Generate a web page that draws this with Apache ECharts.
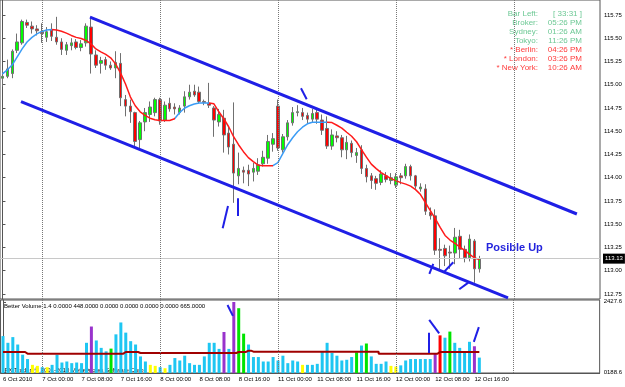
<!DOCTYPE html>
<html>
<head>
<meta charset="utf-8">
<script src="https://cdn.jsdelivr.net/npm/echarts@6/dist/echarts.min.js"></script>
<style>
html, body { margin: 0; padding: 0; background: #fff; }
#main { width: 625px; height: 387px; }
</style>
</head>
<body>
<div id="main"></div>
<script>
// H1 bars, 6 Oct 2010 16:00 .. 12 Oct 2010 17:00
var opens = [115.07,115.09,115.12,115.37,115.45,115.67,115.63,115.60,115.57,115.51,
  115.59,115.51,115.46,115.37,115.42,115.46,115.40,115.45,115.62,115.32,
  115.23,115.27,115.21,115.18,115.23,114.84,114.77,114.70,114.41,114.60,
  114.68,114.70,114.84,114.62,114.80,114.76,114.70,114.77,114.87,114.93,
  114.92,114.82,114.80,114.75,114.60,114.64,114.48,114.36,114.02,114.08,
  114.08,114.06,114.07,114.15,114.21,114.36,114.77,114.30,114.44,114.59,
  114.70,114.70,114.67,114.63,114.70,114.62,114.53,114.34,114.45,114.43,
  114.30,114.37,114.24,114.30,114.10,114.02,113.99,113.95,114.02,113.97,
  113.92,114.02,114.02,114.12,114.02,113.88,113.88,113.63,113.59,113.23,
  113.24,113.20,113.19,113.37,113.23,113.14,113.32,113.02];
var highs = [115.16,115.27,115.38,115.55,115.70,115.70,115.68,115.64,115.66,115.62,
  115.66,115.73,115.50,115.46,115.50,115.49,115.48,115.66,115.73,115.37,
  115.30,115.30,115.25,115.36,115.34,114.89,114.84,114.71,114.61,114.75,
  114.82,114.86,114.86,114.82,114.86,114.80,114.78,114.93,115.00,115.00,
  114.98,114.84,115.02,114.77,114.74,114.73,114.55,114.81,114.27,114.12,
  114.14,114.16,114.21,114.29,114.46,114.48,114.84,114.47,114.62,114.76,
  114.78,114.75,114.70,114.74,114.74,114.68,114.66,114.52,114.50,114.46,
  114.45,114.40,114.32,114.35,114.14,114.05,114.02,114.08,114.06,114.05,
  114.05,114.05,114.15,114.14,114.03,113.94,113.93,113.68,113.66,113.35,
  113.28,113.27,113.46,113.44,113.27,113.39,113.34,113.16];
var lows = [114.98,115.07,115.07,115.34,115.43,115.61,115.55,115.53,115.45,115.46,
  115.47,115.43,115.32,115.32,115.37,115.38,115.36,115.41,115.12,115.18,
  115.12,115.16,115.16,115.07,114.77,114.66,114.59,114.34,114.32,114.50,
  114.60,114.66,114.57,114.60,114.71,114.68,114.68,114.70,114.84,114.87,
  114.80,114.78,114.75,114.44,114.55,114.27,114.25,113.73,113.93,113.94,
  113.91,113.96,114.03,114.12,114.15,114.28,114.29,114.27,114.40,114.56,
  114.66,114.62,114.58,114.60,114.58,114.46,114.31,114.30,114.38,114.22,
  114.20,114.22,114.16,114.04,113.95,113.88,113.87,113.92,113.95,113.93,
  113.89,113.93,113.99,113.97,113.88,113.85,113.60,113.55,113.17,113.01,
  113.05,113.02,113.07,113.13,113.09,113.10,112.87,112.98];
var closes = [115.09,115.17,115.36,115.46,115.68,115.64,115.60,115.58,115.55,115.57,
  115.52,115.46,115.38,115.43,115.45,115.40,115.44,115.63,115.33,115.21,
  115.26,115.21,115.18,115.24,114.86,114.77,114.71,114.39,114.59,114.70,
  114.76,114.84,114.61,114.78,114.74,114.74,114.75,114.87,114.92,114.89,
  114.82,114.81,114.78,114.62,114.68,114.46,114.33,114.05,114.10,114.06,
  114.04,114.10,114.14,114.22,114.39,114.42,114.32,114.44,114.59,114.70,
  114.71,114.66,114.63,114.69,114.63,114.51,114.34,114.46,114.43,114.30,
  114.38,114.27,114.27,114.10,114.01,113.97,113.94,114.04,113.98,114.00,
  114.01,114.00,114.12,114.02,113.91,113.90,113.64,113.59,113.22,113.22,
  113.16,113.19,113.36,113.23,113.14,113.34,113.02,113.13];

// moving average
var maLine = [115.117,115.160,115.214,115.299,115.385,115.460,115.509,115.546,115.573,115.589,
  115.594,115.589,115.575,115.555,115.530,115.509,115.497,115.476,115.439,115.385,
  115.353,115.326,115.289,115.224,115.128,115.010,114.870,114.774,114.709,114.670,
  114.640,114.623,114.616,114.616,114.616,114.634,114.699,114.747,114.774,114.792,
  114.803,114.803,114.803,114.795,114.709,114.634,114.548,114.441,114.355,114.280,
  114.216,114.173,114.135,114.130,114.130,114.130,114.162,114.259,114.355,114.430,
  114.495,114.543,114.580,114.597,114.597,114.597,114.597,114.593,114.564,114.534,
  114.489,114.446,114.387,114.302,114.221,114.146,114.098,114.055,114.023,113.990,
  113.969,113.947,113.931,113.910,113.872,113.819,113.733,113.647,113.561,113.465,
  113.379,113.330,113.293,113.255,113.218,113.175,113.137,113.121];
var maTurns = [10, 35, 42, 55, 66]; // bar where colour flips, first part is blue

var volumes = [1344,1132,1312,1078,757,619,436,404,362,362,
  436,757,510,542,490,510,490,1132,1646,1206,
  972,863,949,1399,1774,1453,1184,1078,702,542,
  436,404,362,330,436,651,574,725,490,436,
  436,702,1132,1132,940,1473,940,2420,2224,1421,
  1078,683,683,542,542,683,574,725,490,574,
  542,436,436,436,468,863,1132,811,725,574,
  596,683,831,1046,1110,702,468,468,542,404,
  381,420,574,619,619,619,619,619,789,1367,
  1293,1486,1132,972,831,1164,1023,665];
var volKinds = ('BBBBBBYYBY' + 'BBBBBBBBPB' + 'BBGBBBBBBB' + 'YYBYBBBBBB' + 'BBBBBPBPGG' +
  'BBBBBBBBBB' + 'BYBBBBBBBB' + 'BBGBGBBBBY' + 'YBBBBBBBPR' + 'BGBBBBPB').split('');
var volAverage = [843,843,843,843,843,789,789,789,789,789,
  789,789,789,789,789,789,789,789,789,789,
  789,789,789,789,789,843,843,843,810,810,
  810,810,810,810,810,810,810,810,810,810,
  810,810,810,810,810,810,810,810,843,843,
  885,853,853,853,853,853,853,853,853,853,
  853,853,853,853,853,853,853,853,853,853,
  853,853,853,853,853,853,853,789,789,789,
  789,789,789,789,789,789,789,789,789,843,
  843,843,843,843,843,843,843,843];

var slotCount = 122;
var timeTicks = {0: '6 Oct 2010', 8: '7 Oct 00:00', 16: '7 Oct 08:00', 24: '7 Oct 16:00',
  32: '8 Oct 00:00', 40: '8 Oct 08:00', 48: '8 Oct 16:00', 56: '11 Oct 00:00',
  64: '11 Oct 08:00', 72: '11 Oct 16:00', 80: '12 Oct 00:00', 88: '12 Oct 08:00', 96: '12 Oct 16:00'};
var daySeps = [8, 32, 56, 80, 104];
var priceTicks = [112.75, 113.00, 113.25, 113.50, 113.75, 114.00, 114.25, 114.50, 114.75, 115.00, 115.25, 115.50, 115.75];
var volTicks = [188.6, 2427.6];

// hand drawn lines, [bar, price]
var channel = [[[17.8, 115.728], [116.8, 113.610]], [[3.77, 114.818], [102.8, 112.707]]];
var priceMarks = [[[44.78, 113.456], [45.86, 113.696]], [[47.83, 113.779], [47.83, 113.589]],
  [[60.7, 114.962], [61.86, 114.844]], [[86.8, 112.965], [87.6, 113.073]],
  [[89.64, 112.979], [91.67, 113.091]], [[92.89, 112.801], [94.72, 112.872]]];
var volMarks = [[[45.72, 2323], [46.82, 1981]], [[86.79, 1449], [86.79, 809]],
  [[86.79, 1853], [88.82, 1427]], [[95.88, 1161], [96.9, 1629]]];

var clockNames = ['Bar Left:', 'Broker:', 'Sydney:', 'Tokyo:', '* Berlin:', '* London:', '* New York:'];
var clockTimes = ['[ 33:31 ]', '05:26 PM', '01:26 AM', '11:26 PM', '04:26 PM', '03:26 PM', '10:26 AM'];
var header = 'Better Volume 1.4 0.0000 448.0000 0.0000 0.0000 0.0000 0.0000 665.0000';

var FONT = '"Liberation Sans", Arial, sans-serif';
var BLUE = '#3b9cf5', RED = '#ff1a1a', LINE = '#1f1fe6';

var slots = [];
for (var i = 0; i < slotCount; i++) slots.push(i);

var candleData = opens.map(function (o, i) { return [o, closes[i], lows[i], highs[i]]; });
var volColors = {B: '#1ec6f2', Y: '#ffff00', P: '#9933cc', G: '#00e400', R: '#ff0000'};
var volData = volumes.map(function (v, i) {
  return {value: v, itemStyle: {color: volColors[volKinds[i]]}};
});

var maPieces = [];
var prev = null;
maTurns.concat([null]).forEach(function (t, k) {
  var p = {color: k % 2 ? RED : BLUE};
  if (prev != null) p.gt = prev;
  if (t != null) p.lte = t;
  maPieces.push(p);
  prev = t;
});

var sepLines = daySeps.map(function (d) { return {xAxis: d}; });
var isTick = function (idx) { return timeTicks[idx] !== undefined; };

var graphics = [
  {type: 'text', x: 4, y: 306, style: {text: header, font: '6px ' + FONT, fill: '#000', textVerticalAlign: 'middle'}},
  {type: 'text', x: 3, y: 370, style: {text: 'IFX Trader, \u00a9 2001-2010 MetaQuotes Software Corp.', font: '6px ' + FONT, fill: '#000', textVerticalAlign: 'middle'}},
  {type: 'text', x: 486, y: 248, style: {text: 'Posible Up', font: 'bold 11px ' + FONT, fill: '#2424dd', textVerticalAlign: 'middle'}}
];
clockNames.forEach(function (n, k) {
  var col = k < 4 ? '#6cc894' : '#ff3b3b';
  graphics.push({type: 'text', x: 538, y: 14 + k * 9, style: {text: n, font: '8px ' + FONT, fill: col, textAlign: 'right', textVerticalAlign: 'middle'}});
  graphics.push({type: 'text', x: 582, y: 14 + k * 9, style: {text: clockTimes[k], font: '8px ' + FONT, fill: col, textAlign: 'right', textVerticalAlign: 'middle'}});
});

var chart = echarts.init(document.getElementById('main'));
var option = {
  animation: false,
  backgroundColor: '#fff',
  textStyle: {fontFamily: FONT},
  grid: [
    {left: 0, top: 0, width: 600, height: 299, show: true, borderColor: '#555', borderWidth: 1},
    {left: 0, top: 300, width: 600, height: 73, show: true, borderColor: '#555', borderWidth: 1}
  ],
  xAxis: [
    {type: 'category', gridIndex: 0, data: slots, axisLine: {show: false}, axisTick: {show: false}, axisLabel: {show: false}},
    {type: 'value', gridIndex: 0, min: -0.5, max: slotCount - 0.5, show: false},
    {type: 'category', gridIndex: 1, data: slots,
      axisLine: {lineStyle: {color: '#555'}},
      axisTick: {interval: isTick, alignWithLabel: true, length: 3, lineStyle: {color: '#555'}},
      axisLabel: {interval: isTick, align: 'left', margin: 3, fontSize: 6, color: '#000',
        formatter: function (v) { return timeTicks[v] || ''; }}},
    {type: 'value', gridIndex: 1, min: -0.5, max: slotCount - 0.5, show: false}
  ],
  yAxis: [
    {type: 'value', gridIndex: 0, position: 'right', min: 112.696, max: 115.911,
      splitLine: {show: false},
      axisLine: {show: true, lineStyle: {color: '#555'}},
      axisTick: {show: true, length: 3, customValues: priceTicks, lineStyle: {color: '#555'}},
      axisLabel: {customValues: priceTicks, margin: 4, fontSize: 6, color: '#000',
        formatter: function (v) { return v.toFixed(2); }}},
    {type: 'value', gridIndex: 1, position: 'right', min: 179, max: 2483,
      splitLine: {show: false},
      axisLine: {show: true, lineStyle: {color: '#555'}},
      axisTick: {show: true, length: 3, customValues: volTicks, lineStyle: {color: '#555'}},
      axisLabel: {customValues: volTicks, margin: 4, fontSize: 6, color: '#000',
        formatter: function (v) { return v.toFixed(1).padStart(6, '0'); }}}
  ],
  visualMap: {type: 'piecewise', show: false, dimension: 0, seriesIndex: 1, pieces: maPieces},
  series: [
    {type: 'candlestick', xAxisIndex: 0, yAxisIndex: 0, data: candleData, barWidth: 3,
      itemStyle: {color: '#00ff00', color0: '#ff0000', borderColor: '#707070', borderColor0: '#707070', borderWidth: 1},
      markLine: {silent: true, symbol: 'none',
        data: [{yAxis: closes[closes.length - 1], lineStyle: {color: '#c8c8c8', type: 'solid', width: 1},
          label: {show: true, position: 'end', distance: 3, fontSize: 6, color: '#fff', backgroundColor: '#000',
            padding: [2, 2], formatter: function (p) { return p.value.toFixed(2); }}}]
          .concat(sepLines.map(function (s) {
            return {xAxis: s.xAxis, lineStyle: {color: '#777', type: 'dotted', width: 1}, label: {show: false}};
          }))}},
    {type: 'line', xAxisIndex: 0, yAxisIndex: 0, data: maLine, showSymbol: false, z: 3,
      lineStyle: {width: 1.5}},
    {type: 'lines', coordinateSystem: 'cartesian2d', xAxisIndex: 1, yAxisIndex: 0, z: 5,
      data: channel.map(function (c) { return {coords: c}; }),
      lineStyle: {color: LINE, width: 3, opacity: 1, curveness: 0}},
    {type: 'lines', coordinateSystem: 'cartesian2d', xAxisIndex: 1, yAxisIndex: 0, z: 5,
      data: priceMarks.map(function (c) { return {coords: c}; }),
      lineStyle: {color: LINE, width: 2, opacity: 1, curveness: 0}},
    {type: 'bar', xAxisIndex: 2, yAxisIndex: 1, data: volData, barWidth: 3,
      markLine: {silent: true, symbol: 'none', label: {show: false},
        lineStyle: {color: '#777', type: 'dotted', width: 1}, data: sepLines}},
    {type: 'line', xAxisIndex: 2, yAxisIndex: 1, data: volAverage, step: 'middle', showSymbol: false, z: 3,
      lineStyle: {color: '#a00000', width: 2}},
    {type: 'lines', coordinateSystem: 'cartesian2d', xAxisIndex: 3, yAxisIndex: 1, z: 5,
      data: volMarks.map(function (c) { return {coords: c}; }),
      lineStyle: {color: LINE, width: 2, opacity: 1, curveness: 0}}
  ],
  graphic: graphics
};
chart.setOption(option);
</script>
</body>
</html>
